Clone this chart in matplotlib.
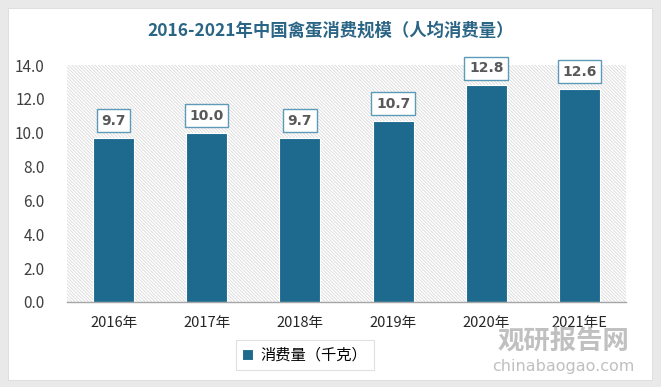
"""
2016-2021年中国禽蛋消费规模（人均消费量）
"""
import matplotlib
matplotlib.use("Agg")
import matplotlib.pyplot as plt
from matplotlib.patches import Rectangle

plt.rcParams['font.family'] = ['Noto Sans CJK SC', 'DejaVu Sans']
plt.rcParams['hatch.linewidth'] = 0.6

# data
years = ['2016年', '2017年', '2018年', '2019年', '2020年', '2021年E']
consumption = [9.7, 10.0, 9.7, 10.7, 12.8, 12.6]
y_ticks = [0, 2, 4, 6, 8, 10, 12, 14]

W, H = 661, 387
fig = plt.figure(figsize=(W / 100, H / 100), dpi=100)
fig.patch.set_facecolor('#e9e9e9')

# white card
fig.patches.append(Rectangle((8 / W, 7 / H), 644 / W, 372 / H, transform=fig.transFigure,
                             facecolor='white', edgecolor='#dcdcdc', lw=0.6, zorder=-1))

ax = fig.add_axes([67 / W, 1 - 302 / H, 559 / W, 237 / H])
ax.set_facecolor('none')
# hatched plot background
ax.add_patch(Rectangle((0, 0), 1, 1, transform=ax.transAxes, facecolor='white',
                       edgecolor='#d9d9d9', linewidth=0, hatch='\\' * 10, zorder=0))

x = list(range(len(years)))
bars = ax.bar(x, consumption, width=0.44, color='#1d6a8e', edgecolor='white',
              linewidth=0.8, zorder=3, label='消费量（千克）')

for xi, v in zip(x, consumption):
    ax.annotate(f'{v:.1f}', (xi, v), xytext=(0, 17), textcoords='offset pixels',
                ha='center', va='center', fontsize=10, fontweight='bold', color='#595959',
                family='DejaVu Sans',
                bbox=dict(boxstyle='square,pad=0.33', facecolor='white', edgecolor='#5b9bb8', lw=1.0),
                zorder=5)

ax.set_xlim(-0.5, len(years) - 0.5)
ax.set_ylim(0, 14)
ax.set_yticks(y_ticks)
ax.set_yticklabels([f'{t:.1f}' for t in y_ticks], fontsize=11, color='#404040')
ax.set_xticks(x)
ax.set_xticklabels(years, fontsize=10.5, color='#262626')
ax.tick_params(axis='both', length=0)
ax.tick_params(axis='x', pad=10)
ax.tick_params(axis='y', pad=16)
for s in ['top', 'right', 'left']:
    ax.spines[s].set_visible(False)
ax.spines['bottom'].set_color('#a6a6a6')
ax.spines['bottom'].set_linewidth(1.0)
ax.spines['bottom'].set_zorder(4)

fig.text(331 / W, 1 - 31 / H, '2016-2021年中国禽蛋消费规模（人均消费量）', ha='center', va='center',
         fontsize=12.5, fontweight='bold', color='#2b6585')

leg = fig.legend(handles=[bars], labels=['消费量（千克）'], loc='center',
                 bbox_to_anchor=(305 / W, 1 - 355 / H), frameon=True, fancybox=False,
                 fontsize=11, handlelength=0.7, handleheight=0.7, borderpad=0.45,
                 handletextpad=0.5)
leg.get_frame().set_edgecolor('#d9d9d9')
leg.get_frame().set_linewidth(0.8)

# watermark
fig.text(563 / W, 1 - 342 / H, '观研报告网', ha='center', va='center', fontsize=19,
         fontweight='bold', color='#b5b5b5', alpha=0.85)
fig.text(563 / W, 1 - 367 / H, 'chinabaogao.com', ha='center', va='center', fontsize=11.5,
         color='#b5b5b5', alpha=0.85, family='DejaVu Sans')

fig.savefig('out.png', dpi=100, facecolor=fig.get_facecolor())
